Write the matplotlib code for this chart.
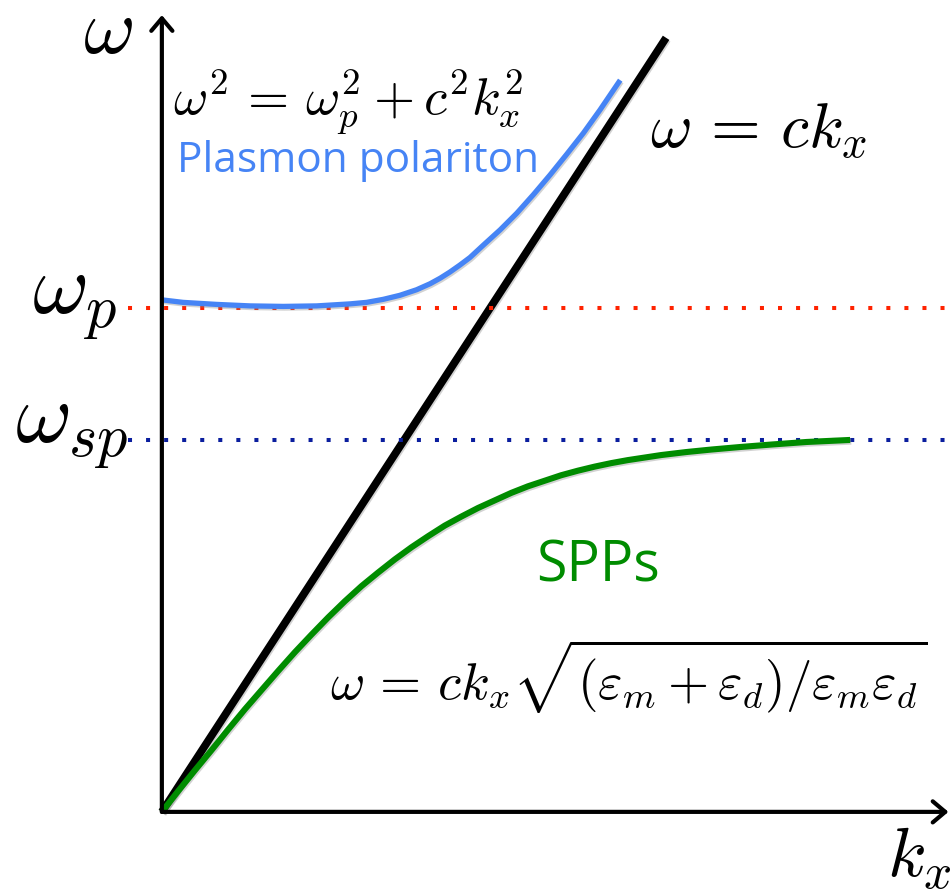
import matplotlib
matplotlib.use('Agg')
import matplotlib.pyplot as plt
import matplotlib.patheffects as pe

plt.rcParams['mathtext.fontset'] = 'cm'
plt.rcParams['lines.scale_dashes'] = False

# frequencies in units of omega_p, wavevector in the same plotting scale
w_p = 1.0
w_sp = 0.738
c = 1.536

# light line
light_k = [0.0, 1.0]
light_w = [c * k for k in light_k]

# bulk plasmon polariton branch (upper)
bulk_k = [0.0, 0.042, 0.108, 0.175, 0.241, 0.307, 0.373, 0.406, 0.439, 0.472,
          0.505, 0.532, 0.552, 0.571, 0.591, 0.611, 0.638, 0.671, 0.704, 0.737,
          0.770, 0.803, 0.836, 0.869, 0.909]
bulk_w = [1.016, 1.011, 1.007, 1.004, 1.003, 1.004, 1.008, 1.011, 1.017, 1.025,
          1.036, 1.048, 1.059, 1.071, 1.085, 1.100, 1.125, 1.155, 1.188, 1.225,
          1.264, 1.305, 1.347, 1.393, 1.452]

# surface plasmon polariton branch (lower)
spp_k = [0.0, 0.033, 0.066, 0.099, 0.132, 0.165, 0.198, 0.231, 0.264, 0.297,
         0.330, 0.363, 0.396, 0.429, 0.462, 0.495, 0.528, 0.561, 0.594, 0.627,
         0.660, 0.693, 0.726, 0.759, 0.792, 0.825, 0.858, 0.891, 0.924, 0.957,
         0.990, 1.040, 1.090, 1.147, 1.210, 1.279, 1.365]
spp_w = [0.0, 0.042, 0.083, 0.123, 0.164, 0.204, 0.242, 0.280, 0.317, 0.352,
         0.386, 0.418, 0.448, 0.475, 0.501, 0.525, 0.547, 0.568, 0.586, 0.603,
         0.618, 0.633, 0.646, 0.657, 0.668, 0.677, 0.685, 0.692, 0.698, 0.703,
         0.708, 0.714, 0.719, 0.724, 0.729, 0.734, 0.738]

# dotted reference levels
level_k = [-0.067, 1.554]

fig = plt.figure(figsize=(9.53, 8.92), dpi=100)
ax = fig.add_axes([0, 0, 1, 1])
ax.set_xlim(-0.321, 1.569)
ax.set_ylim(-0.159, 1.611)
ax.axis('off')

sombra = [pe.SimpleLineShadow(offset=(0.8, -1.2), shadow_color='0.5', alpha=0.35), pe.Normal()]

# ejes con flecha
flecha = dict(arrowstyle='->, head_length=0.45, head_width=0.38', lw=3.0,
              color='black', mutation_scale=20, shrinkA=0, shrinkB=0)
ax.annotate('', xy=(0, 1.581), xytext=(0, 0), arrowprops=flecha, zorder=5)
ax.annotate('', xy=(1.560, 0), xytext=(0, 0), arrowprops=flecha, zorder=5)

# linea de luz
ax.plot(light_k, light_w, color='black', lw=5.6, solid_capstyle='butt',
        zorder=2, path_effects=sombra)

# niveles omega_p y omega_sp
ax.plot(level_k, [w_p, w_p], color='#ff2200', lw=2.9, linestyle=(0, (2.9, 10.1)),
        dash_capstyle='butt', zorder=3)
ax.plot(level_k, [w_sp, w_sp], color='#0a1e9e', lw=2.9, linestyle=(0, (2.9, 10.1)),
        dash_capstyle='butt', zorder=3)

# ramas
ax.plot(bulk_k, bulk_w, color='#4684f5', lw=3.8, solid_capstyle='butt',
        solid_joinstyle='round', zorder=4, path_effects=sombra)
ax.plot(spp_k, spp_w, color='#008c00', lw=4.4, solid_capstyle='butt',
        solid_joinstyle='round', zorder=4, path_effects=sombra)

# etiquetas de los ejes
ax.text(-0.107, 1.505, r'$\omega$', fontsize=57, ha='center', va='baseline')
ax.text(-0.089, 0.990, r'$\omega_p$', fontsize=62, ha='right', va='baseline')
ax.text(-0.067, 0.734, r'$\omega_{sp}$', fontsize=62, ha='right', va='baseline')
ax.text(1.438, -0.129, r'$k_x$', fontsize=51, ha='left', va='baseline')

# ecuaciones y nombres
ax.text(0.022, 1.383, r'$\omega^2 \,=\, \omega_p^2 + c^2k_x^2$', fontsize=38,
        ha='left', va='baseline')
ax.text(0.030, 1.270, 'Plasmon polariton', fontsize=30.5, color='#4684f5',
        family='Open Sans', ha='left', va='baseline')
ax.text(0.968, 1.317, r'$\omega \,=\, ck_x$', fontsize=46, ha='left', va='baseline')
ax.text(0.742, 0.458, 'SPPs', fontsize=40, color='#008c00',
        family='Open Sans', ha='left', va='baseline')
ax.text(0.333, 0.222,
        r'$\omega \,=\, ck_x\sqrt{(\varepsilon_m + \varepsilon_d)/\varepsilon_m\varepsilon_d}$',
        fontsize=38, ha='left', va='baseline')

fig.savefig('out.png', dpi=100)
